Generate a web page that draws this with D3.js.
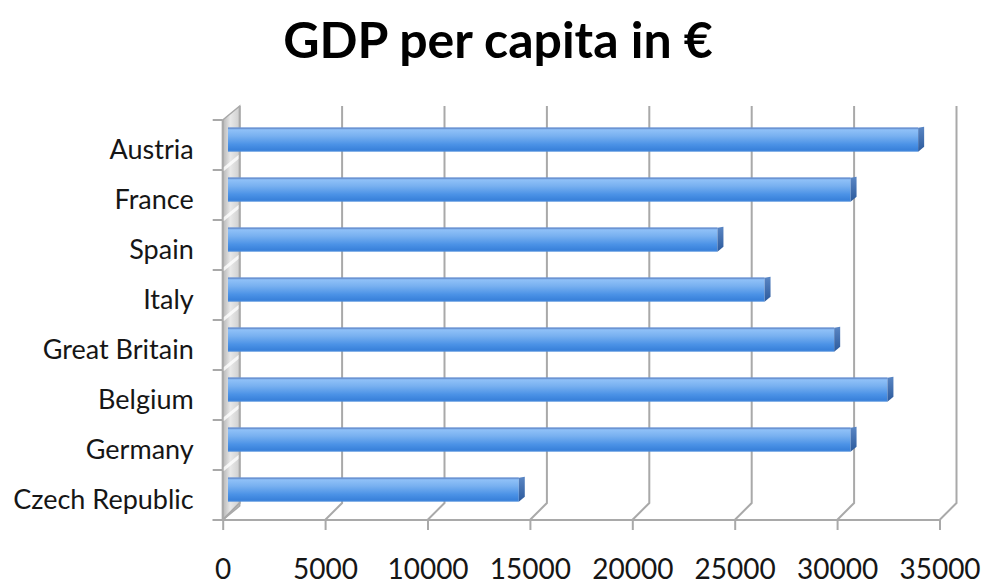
<!DOCTYPE html>
<html>
<head>
<meta charset="utf-8">
<script src="https://cdn.jsdelivr.net/npm/d3@7"></script>
<style>
  html, body { margin: 0; padding: 0; background: #fff; }
  svg { display: block; }
</style>
</head>
<body>
<svg id="chart" width="984" height="586"></svg>
<script>
// GDP per capita by country (EUR)
const categories = ["Austria", "France", "Spain", "Italy", "Great Britain", "Belgium", "Germany", "Czech Republic"];
const gdpValues = [33700, 30400, 23900, 26200, 29600, 32200, 30400, 14200];
const tickValues = [0, 5000, 10000, 15000, 20000, 25000, 30000, 35000];
const chartTitle = "GDP per capita in €";

const svg = d3.select("#chart");
const font = "Lato, 'Open Sans', 'DejaVu Sans', sans-serif";
const textColor = "#161616";

// front plane of the 3D plot box
const x = d3.scaleLinear().domain([0, 35000]).range([222.7, 939.5]);
const y = d3.scaleBand().domain(categories).range([120, 520]).padding(0);

// depth of the box (offset of the back wall relative to the front plane)
const DX = 17, DY = -14;
const depth = f => [DX * f, DY * f];

const defs = svg.append("defs");

const wallGrad = defs.append("linearGradient").attr("id", "wallGrad")
  .attr("x1", "0").attr("x2", "1").attr("y1", "0").attr("y2", "0");
wallGrad.append("stop").attr("offset", "0%").attr("stop-color", "#b5b5b5");
wallGrad.append("stop").attr("offset", "45%").attr("stop-color", "#e8e8e8");
wallGrad.append("stop").attr("offset", "100%").attr("stop-color", "#cfcfcf");

const barGrad = defs.append("linearGradient").attr("id", "barGrad")
  .attr("x1", "0").attr("x2", "0").attr("y1", "0").attr("y2", "1");
[["0%", "#6a9ade"], ["10%", "#8ec0f7"], ["35%", "#78b0f0"], ["70%", "#4b92e6"], ["92%", "#3a82db"], ["100%", "#4a8bdb"]]
  .forEach(([o, c]) => barGrad.append("stop").attr("offset", o).attr("stop-color", c));

const capGrad = defs.append("linearGradient").attr("id", "capGrad")
  .attr("x1", "0").attr("x2", "0").attr("y1", "0").attr("y2", "1");
capGrad.append("stop").attr("offset", "0%").attr("stop-color", "#5a86c4");
capGrad.append("stop").attr("offset", "100%").attr("stop-color", "#2c5a9c");

const [bx, by] = depth(1);
const yTop = y.range()[0], yBot = y.range()[1];
const gridColor = "#a9a9a9";

// left side wall
svg.append("path")
  .attr("d", `M${x(0)},${yTop} L${x(0) + bx},${yTop + by} L${x(0) + bx},${yBot + by} L${x(0)},${yBot} Z`)
  .attr("fill", "url(#wallGrad)")
  .attr("stroke", "#a8a8a8").attr("stroke-width", 1.5);

// category separators on the side wall
svg.append("g").selectAll("line")
  .data(categories.slice(1))
  .join("line")
  .attr("x1", x(0)).attr("y1", d => y(d))
  .attr("x2", x(0) + bx).attr("y2", d => y(d) + by)
  .attr("stroke", "#ffffff").attr("stroke-width", 3).attr("opacity", 0.8);

// value gridlines: up the back wall, then across the floor to the front edge
svg.append("g").selectAll("path")
  .data(tickValues)
  .join("path")
  .attr("d", d => `M${x(d) + bx},${yTop + by} L${x(d) + bx},${yBot + by - 3} L${x(d)},${yBot}`)
  .attr("fill", "none")
  .attr("stroke", gridColor).attr("stroke-width", 2);

// front floor edge and left edge
svg.append("line")
  .attr("x1", x(0) - 10).attr("x2", x(35000))
  .attr("y1", yBot).attr("y2", yBot)
  .attr("stroke", gridColor).attr("stroke-width", 2);

svg.append("line")
  .attr("x1", x(0)).attr("x2", x(0))
  .attr("y1", yTop).attr("y2", yBot)
  .attr("stroke", gridColor).attr("stroke-width", 2);

const xAxis = d3.axisBottom(x).tickValues(tickValues).tickSize(10).tickFormat(d3.format("d"));
const gx = svg.append("g").attr("transform", `translate(0,${yBot})`).call(xAxis);
gx.select(".domain").remove();
gx.selectAll(".tick line").attr("stroke", gridColor).attr("stroke-width", 2);
gx.selectAll(".tick text")
  .attr("font-family", font).attr("font-size", 28).attr("fill", textColor)
  .attr("y", 59).attr("dy", 0);

const yAxis = d3.axisLeft(y).tickSize(0).tickPadding(29);
const gy = svg.append("g").attr("transform", `translate(${x(0)},0)`).call(yAxis);
gy.select(".domain").remove();
gy.selectAll(".tick text")
  .attr("font-family", font).attr("font-size", 27).attr("fill", textColor)
  .attr("dy", "0.5em");

// category boundary ticks on the left edge
svg.append("g").selectAll("line")
  .data(categories.map(c => y(c)).concat([yBot]))
  .join("line")
  .attr("x1", x(0) - 10).attr("x2", x(0))
  .attr("y1", d => d).attr("y2", d => d)
  .attr("stroke", gridColor).attr("stroke-width", 2);

// 3D bars: front face, top bevel and end cap
const barDepth = 0.31;
const [fx, fy] = depth(barDepth);
const faceTop = 12, faceBot = 36;
const bars = svg.append("g").selectAll("g").data(categories).join("g");

bars.append("rect")
  .attr("x", x(0) + fx)
  .attr("y", d => y(d) + faceTop + fy)
  .attr("width", (d, i) => x(gdpValues[i]) - x(0))
  .attr("height", faceBot - faceTop)
  .attr("fill", "url(#barGrad)");

bars.append("line")
  .attr("x1", x(0) + fx)
  .attr("x2", (d, i) => x(gdpValues[i]) + fx)
  .attr("y1", d => y(d) + faceTop + fy + 0.5)
  .attr("y2", d => y(d) + faceTop + fy + 0.5)
  .attr("stroke", "#6c94d2").attr("stroke-width", 1.5);

bars.append("path")
  .attr("d", (d, i) => {
    const xe = x(gdpValues[i]) + fx;
    const t = y(d) + faceTop + fy, b = y(d) + faceBot + fy;
    return `M${xe},${t} L${xe + 6},${t - 1} L${xe + 6},${b - 5} L${xe},${b} Z`;
  })
  .attr("fill", "url(#capGrad)");

// title
svg.append("text")
  .attr("x", 498).attr("y", 58)
  .attr("text-anchor", "middle")
  .attr("font-family", font).attr("font-weight", "bold").attr("font-size", 50)
  .attr("fill", "#000")
  .text(chartTitle);
</script>
</body>
</html>
